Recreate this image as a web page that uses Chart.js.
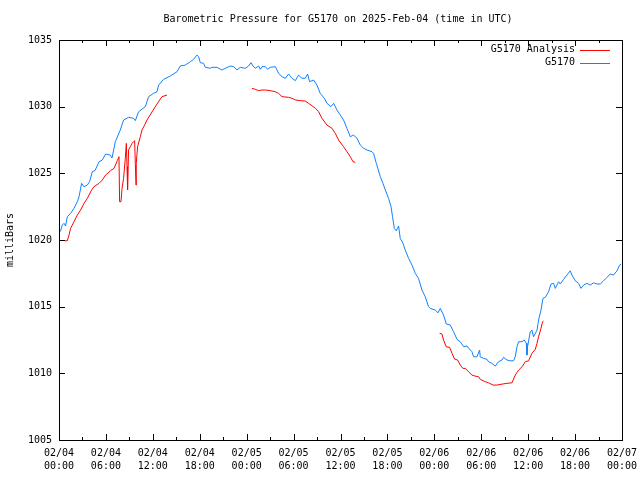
<!DOCTYPE html>
<html>
<head>
<meta charset="utf-8">
<script src="https://cdn.jsdelivr.net/npm/chart.js@4.4.1/dist/chart.umd.min.js"></script>
<style>
  html, body { margin: 0; padding: 0; background: #fff; }
  #wrap { width: 640px; height: 480px; }
</style>
</head>
<body>
<div id="wrap"><canvas id="pressureChart" width="640" height="480"></canvas></div>
<script>
// hours since 02/04 00:00 UTC, pressure in mb
var blueHours = [0, 0.2, 0.42, 0.64, 0.84, 1.06, 1.48, 1.92, 2.34, 2.56, 2.89, 3.2, 3.62, 3.91, 4.26, 4.6, 5.12, 5.54, 5.96, 6.56, 6.78, 7.2, 7.84, 8.26, 8.9, 9.54, 9.76, 10.18, 11.04, 11.46, 12.1, 12.53, 12.74, 13.38, 14.23, 15.09, 15.51, 16.15, 16.79, 17.21, 17.65, 17.85, 18.07, 18.49, 18.71, 19.35, 19.57, 20.2, 20.84, 21.27, 21.91, 22.33, 22.76, 23.18, 23.82, 24.25, 24.55, 24.81, 25.1, 25.52, 25.74, 25.96, 26.38, 26.68, 27.02, 27.66, 27.88, 28.08, 28.52, 28.94, 29.36, 29.8, 30.22, 30.64, 31.07, 31.5, 31.79, 32.05, 32.56, 32.99, 33.41, 33.93, 34.27, 34.78, 35.12, 35.55, 35.97, 36.39, 36.83, 37.25, 37.67, 38.11, 38.53, 38.95, 39.39, 40.03, 40.23, 40.58, 41.09, 41.43, 41.73, 42.15, 42.46, 42.66, 42.88, 43.13, 43.43, 43.64, 43.99, 44.28, 44.71, 45.14, 45.56, 45.98, 46.42, 46.84, 47.26, 47.48, 48.12, 48.47, 48.76, 49.18, 49.53, 50.04, 50.46, 50.9, 51.31, 51.74, 52.17, 52.6, 52.81, 53.02, 53.45, 53.79, 53.87, 54.3, 54.73, 54.94, 55.37, 55.79, 56.21, 56.65, 56.85, 57.29, 57.71, 58.13, 58.35, 58.57, 58.77, 59.21, 59.5, 59.76, 59.85, 59.92, 60.27, 60.49, 60.69, 61.13, 61.33, 61.64, 61.89, 62.19, 62.61, 62.92, 63.25, 63.47, 63.89, 64.11, 64.53, 64.96, 65.38, 65.6, 66.02, 66.45, 66.75, 67.08, 67.52, 67.94, 68.36, 68.8, 69.22, 69.64, 70.08, 70.5, 70.92, 71.36, 71.69, 71.9];
var bluePressure = [1020.55, 1020.69, 1021.12, 1021.25, 1021.05, 1021.74, 1022.0, 1022.37, 1022.87, 1023.24, 1024.25, 1024.0, 1024.12, 1024.37, 1025.12, 1025.2, 1025.87, 1026.0, 1026.45, 1026.37, 1026.15, 1027.37, 1028.25, 1029.0, 1029.2, 1029.13, 1028.95, 1029.62, 1030.0, 1030.75, 1031.0, 1031.12, 1031.62, 1032.05, 1032.3, 1032.62, 1033.05, 1033.12, 1033.37, 1033.55, 1033.87, 1033.75, 1033.3, 1033.25, 1032.95, 1032.88, 1032.95, 1032.95, 1032.75, 1032.88, 1033.05, 1033.0, 1032.75, 1032.95, 1032.88, 1033.05, 1033.3, 1033.05, 1032.88, 1033.05, 1032.8, 1033.0, 1033.0, 1032.8, 1032.95, 1033.0, 1032.75, 1032.5, 1032.25, 1032.13, 1032.45, 1032.13, 1031.95, 1032.37, 1032.13, 1032.13, 1032.45, 1031.87, 1032.0, 1031.62, 1031.0, 1030.63, 1030.25, 1030.0, 1030.25, 1029.75, 1029.37, 1029.0, 1028.37, 1027.75, 1027.87, 1027.63, 1027.12, 1026.88, 1026.75, 1026.62, 1026.5, 1025.75, 1024.75, 1024.25, 1023.75, 1023.12, 1022.5, 1021.74, 1020.87, 1020.69, 1021.05, 1020.12, 1019.75, 1019.25, 1018.62, 1018.12, 1017.5, 1017.12, 1016.25, 1015.74, 1015.0, 1014.87, 1014.74, 1014.54, 1014.87, 1014.37, 1013.7, 1013.62, 1013.12, 1012.55, 1012.37, 1012.0, 1012.05, 1011.75, 1011.62, 1011.24, 1011.24, 1011.75, 1011.24, 1011.12, 1011.05, 1010.87, 1010.75, 1010.54, 1010.87, 1011.0, 1011.2, 1011.0, 1010.94, 1010.94, 1011.24, 1011.99, 1012.37, 1012.37, 1012.5, 1012.25, 1011.37, 1011.99, 1013.12, 1013.24, 1012.74, 1013.24, 1014.0, 1014.74, 1015.62, 1015.7, 1016.12, 1016.7, 1016.75, 1016.37, 1016.87, 1016.7, 1017.05, 1017.37, 1017.69, 1017.37, 1016.94, 1016.75, 1016.37, 1016.62, 1016.75, 1016.62, 1016.79, 1016.7, 1016.7, 1016.94, 1017.2, 1017.45, 1017.37, 1017.69, 1018.12, 1018.2];

// analysis series has gaps (null)
var redHours = [0.77, 1.06, 1.28, 1.48, 1.92, 2.34, 2.76, 3.2, 3.62, 4.17, 4.48, 5.12, 5.54, 5.96, 6.6, 7.03, 7.46, 7.67, 7.75, 7.93, 8.06, 8.26, 8.48, 8.61, 8.7, 8.77, 8.9, 9.12, 9.34, 9.54, 9.67, 9.76, 9.85, 9.88, 10.05, 10.4, 10.61, 10.95, 11.25, 12.44, 13.17, 13.81,
  18,
  24.68, 25.1, 25.52, 25.96, 26.38, 27.02, 27.66, 28.08, 28.52, 29.36, 29.8, 30.22, 30.86, 31.5, 31.92, 32.35, 32.78, 33.2, 33.63, 34.27, 34.91, 35.33, 35.75, 36.39, 36.83, 37.25, 37.6, 37.89,
  43,
  48.67, 48.98, 49.18, 49.53, 49.95, 50.26, 50.59, 50.97, 51.32, 51.66, 51.96, 52.38, 52.81, 53.23, 53.66, 53.87, 54.51, 54.94, 55.5, 56.01, 56.65, 57.29, 57.93, 58.35, 58.77, 59.21, 59.63, 60.05, 60.49, 60.91, 61.13, 61.33, 61.64, 61.84, 61.97];
var redPressure = [1019.94, 1019.94, 1020.37, 1020.87, 1021.37, 1021.87, 1022.25, 1022.75, 1023.12, 1023.75, 1024.0, 1024.25, 1024.5, 1024.87, 1025.2, 1025.37, 1025.95, 1026.25, 1022.87, 1022.87, 1023.87, 1024.62, 1026.13, 1027.25, 1025.5, 1023.75, 1026.75, 1027.0, 1027.25, 1027.37, 1027.45, 1025.75, 1024.12, 1025.75, 1027.0, 1027.75, 1028.25, 1028.62, 1029.0, 1030.12, 1030.75, 1030.87,
  null,
  1031.38, 1031.3, 1031.2, 1031.25, 1031.25, 1031.2, 1031.12, 1031.0, 1030.75, 1030.7, 1030.63, 1030.5, 1030.45, 1030.42, 1030.25, 1030.07, 1029.88, 1029.62, 1029.13, 1028.62, 1028.38, 1028.0, 1027.5, 1027.0, 1026.62, 1026.25, 1025.87, 1025.82,
  null,
  1013.0, 1012.94, 1012.49, 1011.99, 1011.95, 1011.5, 1011.07, 1011.0, 1010.62, 1010.37, 1010.37, 1010.12, 1009.87, 1009.79, 1009.74, 1009.55, 1009.37, 1009.29, 1009.12, 1009.12, 1009.19, 1009.25, 1009.29, 1009.87, 1010.24, 1010.49, 1010.87, 1010.94, 1011.5, 1011.8, 1012.25, 1012.74, 1013.37, 1013.87, 1013.92];

var xTickLabels = [
  ["02/04", "00:00"], ["02/04", "06:00"], ["02/04", "12:00"], ["02/04", "18:00"],
  ["02/05", "00:00"], ["02/05", "06:00"], ["02/05", "12:00"], ["02/05", "18:00"],
  ["02/06", "00:00"], ["02/06", "06:00"], ["02/06", "12:00"], ["02/06", "18:00"],
  ["02/07", "00:00"]
];
var chartTitle = "Barometric Pressure for G5170 on 2025-Feb-04 (time in UTC)";

(function() {
  var monoFont = "'DejaVu Sans Mono', 'Liberation Mono', monospace";

  function toPoints(xs, ys) {
    var out = [];
    for (var i = 0; i < xs.length; i++) out.push({ x: xs[i], y: ys[i] });
    return out;
  }

  // gnuplot-like frame: title, full box, inward ticks mirrored on all sides, legend top right
  var framePlugin = {
    id: "gnuplotFrame",
    afterDraw: function(chart) {
      var ctx = chart.ctx;
      var a = chart.chartArea;
      var xs = chart.scales.x, ys = chart.scales.y;
      ctx.save();
      ctx.font = "10px " + monoFont;
      ctx.fillStyle = "#000";
      ctx.textAlign = "center";
      ctx.textBaseline = "middle";
      ctx.fillText(chartTitle, 338, 19);

      ctx.strokeStyle = "#000";
      ctx.lineWidth = 1;
      ctx.beginPath();
      ctx.rect(Math.round(a.left) + 0.5, Math.round(a.top) + 0.5, Math.round(a.right - a.left), Math.round(a.bottom - a.top));
      for (var h = 0; h <= 72; h += 3) {
        var px = Math.round(xs.getPixelForValue(h)) + 0.5;
        var len = h % 6 === 0 ? 6 : 3;
        ctx.moveTo(px, a.bottom); ctx.lineTo(px, a.bottom - len);
        ctx.moveTo(px, a.top); ctx.lineTo(px, a.top + len);
      }
      for (var v = 1005; v <= 1035; v += 5) {
        var py = Math.round(ys.getPixelForValue(v)) + 0.5;
        ctx.moveTo(a.left, py); ctx.lineTo(a.left + 6, py);
        ctx.moveTo(a.right, py); ctx.lineTo(a.right - 6, py);
      }
      ctx.stroke();

      ctx.textAlign = "right";
      chart.data.datasets.forEach(function(ds, i) {
        var y = a.top + 9.5 + i * 13;
        ctx.fillStyle = "#000";
        ctx.fillText(ds.label, a.right - 47, y);
        ctx.strokeStyle = ds.borderColor;
        ctx.beginPath();
        ctx.moveTo(a.right - 42, Math.round(y) + 0.5);
        ctx.lineTo(a.right - 12, Math.round(y) + 0.5);
        ctx.stroke();
      });
      ctx.restore();
    }
  };

  Chart.defaults.font.family = monoFont;
  Chart.defaults.font.size = 10;
  Chart.defaults.color = "#000";

  new Chart(document.getElementById("pressureChart").getContext("2d"), {
    type: "line",
    data: {
      datasets: [
        { label: "G5170 Analysis", data: toPoints(redHours, redPressure), borderColor: "#ff0000", borderWidth: 1, pointRadius: 0, tension: 0, fill: false, spanGaps: false },
        { label: "G5170", data: toPoints(blueHours, bluePressure), borderColor: "#1080ff", borderWidth: 1, pointRadius: 0, tension: 0, fill: false, spanGaps: false }
      ]
    },
    options: {
      responsive: false,
      animation: false,
      layout: { padding: { left: 0, right: 18, top: 40, bottom: 0 } },
      plugins: {
        legend: { display: false },
        tooltip: { enabled: false },
        title: { display: false }
      },
      scales: {
        x: {
          type: "linear",
          min: 0,
          max: 72,
          afterFit: function(scale) { scale.height = 40; scale.paddingLeft = 0; scale.paddingRight = 0; },
          grid: { display: false, drawTicks: false },
          border: { display: true, color: "#000" },
          ticks: {
            stepSize: 6,
            padding: 7,
            maxRotation: 0,
            autoSkip: false,
            font: { size: 10, lineHeight: 1.3 },
            callback: function(value, index) { return xTickLabels[index] || ""; }
          }
        },
        y: {
          min: 1005,
          max: 1035,
          afterFit: function(scale) { scale.width = 59; scale.paddingTop = 0; scale.paddingBottom = 0; },
          grid: { display: false, drawTicks: false },
          border: { display: true, color: "#000" },
          title: { display: true, text: "milliBars", color: "#000", font: { size: 10 }, padding: { top: 4, bottom: 0 } },
          ticks: {
            stepSize: 5,
            padding: 7,
            callback: function(value) { return "" + value; }
          }
        }
      }
    },
    plugins: [framePlugin]
  });
})();
</script>
</body>
</html>
